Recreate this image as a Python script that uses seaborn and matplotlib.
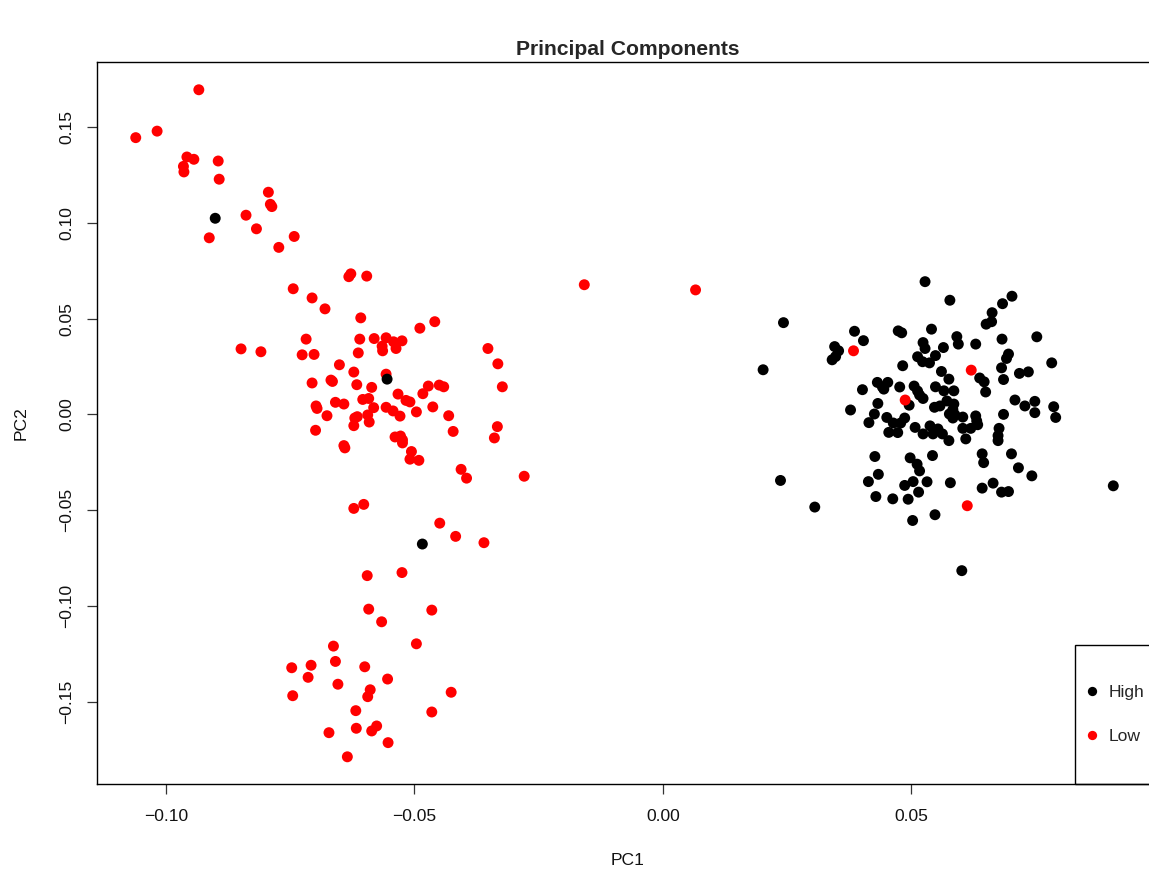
import matplotlib
matplotlib.use("Agg")
import matplotlib.pyplot as plt
from matplotlib.patches import Rectangle
import pandas as pd
import seaborn as sns

# PCA scores for samples in the "High" group
high_pc1 = [
    0.0243, 0.0202, 0.0386, 0.0404, 0.0474, 0.0481, 0.0346, 0.0354, 0.0348, 0.0341,
    0.0483, 0.0432, 0.0442, 0.0453, 0.0445, 0.0402, 0.0477, 0.0496, 0.0433, 0.0378,
    0.0426, 0.0415, 0.0451, 0.0464, 0.0479, 0.0487, 0.0508, 0.0528, 0.0578, 0.0703,
    0.0684, 0.0663, 0.0662, 0.0651, 0.0541, 0.0753, 0.0592, 0.0595, 0.0630, 0.0683,
    0.0524, 0.0528, 0.0565, 0.0549, 0.0513, 0.0523, 0.0537, 0.0696, 0.0692, 0.0783,
    0.0561, 0.0682, 0.0718, 0.0736, 0.0576, 0.0638, 0.0647, 0.0686, 0.0506, 0.0513,
    0.0517, 0.0524, 0.0549, 0.0566, 0.0586, 0.0650, 0.0547, 0.0558, 0.0572, 0.0586,
    0.0584, 0.0577, 0.0588, 0.0604, 0.0584, 0.0630, 0.0632, 0.0634, 0.0709, 0.0729,
    0.0749, 0.0749, 0.0787, 0.0791, 0.0686, 0.0538, 0.0554, 0.0604, 0.0620, 0.0677,
    0.0524, 0.0544, 0.0563, 0.0576, 0.0610, 0.0675, 0.0675, 0.0498, 0.0512, 0.0517,
    0.0543, 0.0643, 0.0646, 0.0702, 0.0716, 0.0743, 0.0487, 0.0504, 0.0532, 0.0579,
    0.0515, 0.0494, 0.0643, 0.0665, 0.0682, 0.0696, 0.0548, 0.0503, 0.0602, 0.0907,
    0.0237, 0.0306, 0.0427, 0.0434, 0.0414, 0.0429, 0.0463, 0.0455, 0.0473,
    -0.0901, -0.0555, -0.0484,
]
high_pc2 = [
    0.0479, 0.0233, 0.0434, 0.0385, 0.0436, 0.0426, 0.0354, 0.0332, 0.0302, 0.0285,
    0.0254, 0.0167, 0.0144, 0.0167, 0.0132, 0.0129, 0.0143, 0.0048, 0.0057, 0.0023,
    0.0002, -0.0043, -0.0016, -0.0045, -0.0045, -0.0019, -0.0068, 0.0693, 0.0596, 0.0617,
    0.0578, 0.0531, 0.0484, 0.0471, 0.0445, 0.0405, 0.0406, 0.0367, 0.0367, 0.0393,
    0.0375, 0.0344, 0.0349, 0.0307, 0.0301, 0.0275, 0.0269, 0.0315, 0.0292, 0.0269,
    0.0224, 0.0243, 0.0214, 0.0222, 0.0184, 0.0190, 0.0170, 0.0182, 0.0148, 0.0122,
    0.0101, 0.0083, 0.0144, 0.0123, 0.0123, 0.0117, 0.0037, 0.0044, 0.0070, 0.0054,
    0.0025, 0.0002, -0.0002, -0.0014, -0.0019, -0.0008, -0.0034, -0.0054, 0.0075, 0.0044,
    0.0068, 0.0009, 0.0040, -0.0016, 0.0000, -0.0060, -0.0076, -0.0073, -0.0073, -0.0073,
    -0.0102, -0.0102, -0.0102, -0.0137, -0.0128, -0.0111, -0.0137, -0.0227, -0.0260, -0.0295,
    -0.0215, -0.0206, -0.0252, -0.0206, -0.0279, -0.0321, -0.0371, -0.0351, -0.0352, -0.0357,
    -0.0406, -0.0443, -0.0385, -0.0359, -0.0406, -0.0403, -0.0524, -0.0554, -0.0816, -0.0373,
    -0.0345, -0.0484, -0.0220, -0.0313, -0.0351, -0.0429, -0.0441, -0.0094, -0.0095,
    0.1024, 0.0184, -0.0677,
]

# PCA scores for samples in the "Low" group
low_pc1 = [
    -0.0934, -0.1061, -0.1018, -0.0958, -0.0944, -0.0965, -0.0964, -0.0895, -0.0893, -0.0794,
    -0.0790, -0.0787, -0.0839, -0.0818, -0.0913, -0.0742, -0.0773,
    -0.0632, -0.0628, -0.0596, -0.0744, -0.0706, -0.0680, -0.0608, -0.0459, -0.0489, -0.0718,
    -0.0610, -0.0581, -0.0557, -0.0542, -0.0525, -0.0565, -0.0564, -0.0537, -0.0352, -0.0726,
    -0.0702, -0.0613, -0.0332, -0.0651, -0.0622, -0.0557, -0.0706, -0.0668, -0.0665, -0.0616,
    -0.0586, -0.0472, -0.0450, -0.0441, -0.0323, -0.0533, -0.0483, -0.0604, -0.0592, -0.0517,
    -0.0509, -0.0698, -0.0696, -0.0659, -0.0642, -0.0582, -0.0557, -0.0543, -0.0463, -0.0496,
    -0.0431, -0.0676, -0.0620, -0.0615, -0.0594, -0.0529,
    -0.0591, -0.0622, -0.0699, -0.0422, -0.0333, -0.0339, -0.0539, -0.0528, -0.0524, -0.0524,
    -0.0642, -0.0640, -0.0506, -0.0509, -0.0491, -0.0406, -0.0395, -0.0279, -0.0602, -0.0622,
    -0.0449, -0.0417, -0.0360,
    -0.0595, -0.0525, -0.0592, -0.0465, -0.0566, -0.0496, -0.0663, -0.0747, -0.0708, -0.0659,
    -0.0600, -0.0714, -0.0654, -0.0554, -0.0589, -0.0594, -0.0426, -0.0745, -0.0465, -0.0618,
    -0.0617, -0.0576, -0.0586, -0.0672, -0.0553, -0.0635,
    -0.0849, -0.0809, -0.0158, 0.0066,
    0.0384, 0.0488, 0.0621, 0.0613,
]
low_pc2 = [
    0.1695, 0.1445, 0.1479, 0.1344, 0.1332, 0.1295, 0.1266, 0.1323, 0.1228, 0.1160,
    0.1097, 0.1085, 0.1040, 0.0969, 0.0922, 0.0929, 0.0872,
    0.0719, 0.0734, 0.0722, 0.0656, 0.0608, 0.0551, 0.0504, 0.0484, 0.0450, 0.0393,
    0.0393, 0.0396, 0.0400, 0.0379, 0.0384, 0.0356, 0.0332, 0.0344, 0.0344, 0.0311,
    0.0313, 0.0321, 0.0264, 0.0259, 0.0221, 0.0210, 0.0164, 0.0179, 0.0172, 0.0155,
    0.0141, 0.0148, 0.0153, 0.0144, 0.0144, 0.0106, 0.0108, 0.0078, 0.0083, 0.0073,
    0.0065, 0.0044, 0.0031, 0.0063, 0.0054, 0.0035, 0.0037, 0.0018, 0.0039, 0.0013,
    -0.0007, -0.0007, -0.0019, -0.0012, -0.0003, -0.0009,
    -0.0040, -0.0059, -0.0083, -0.0089, -0.0064, -0.0123, -0.0118, -0.0113, -0.0133, -0.0149,
    -0.0163, -0.0175, -0.0194, -0.0234, -0.0240, -0.0287, -0.0333, -0.0323, -0.0470, -0.0491,
    -0.0568, -0.0637, -0.0670,
    -0.0842, -0.0826, -0.1017, -0.1022, -0.1083, -0.1198, -0.1210, -0.1323, -0.1310, -0.1290,
    -0.1318, -0.1373, -0.1409, -0.1382, -0.1438, -0.1474, -0.1451, -0.1469, -0.1554, -0.1547,
    -0.1639, -0.1627, -0.1653, -0.1662, -0.1714, -0.1788,
    0.0342, 0.0327, 0.0677, 0.0650,
    0.0332, 0.0075, 0.0231, -0.0477,
]

groups = ["High", "Low"]
group_colors = ["#000000", "#FF0000"]

x_ticks = [-0.10, -0.05, 0.00, 0.05]
x_tick_labels = ["\u22120.10", "\u22120.05", "0.00", "0.05"]
y_ticks = [-0.15, -0.10, -0.05, 0.00, 0.05, 0.10, 0.15]
y_tick_labels = ["\u22120.15", "\u22120.10", "\u22120.05", "0.00", "0.05", "0.10", "0.15"]

df = pd.concat([
    pd.DataFrame({"PC1": high_pc1, "PC2": high_pc2, "group": "High"}),
    pd.DataFrame({"PC1": low_pc1, "PC2": low_pc2, "group": "Low"}),
], ignore_index=True)
# stray High samples sitting inside the Low cloud are drawn on top
df["layer"] = ((df["group"] == "High") & (df["PC1"] < 0)).astype(int)
df = df.sort_values("layer", kind="stable")

sns.set_style("white")
plt.rcParams["font.family"] = ["Liberation Sans", "DejaVu Sans"]
plt.rcParams["axes.unicode_minus"] = True

W, H = 1149, 874
fig = plt.figure(figsize=(W / 100, H / 100), dpi=100)
ax = fig.add_axes([97 / W, 90 / H, 1062 / W, 722 / H])

sns.scatterplot(
    data=df, x="PC1", y="PC2", hue="group", hue_order=groups,
    palette=dict(zip(groups, group_colors)), s=62, linewidth=0,
    ax=ax, legend=True,
)

ax.set_xlim(-0.1139, 0.0999)
ax.set_ylim(-0.193, 0.184)
ax.set_xticks(x_ticks)
ax.set_xticklabels(x_tick_labels)
ax.set_yticks(y_ticks)
ax.set_yticklabels(y_tick_labels, rotation=90, va="center")

for side in ["left", "right", "top", "bottom"]:
    ax.spines[side].set_visible(True)
    ax.spines[side].set_color("black")
    ax.spines[side].set_linewidth(1.0)

ax.tick_params(axis="both", which="major", direction="out", length=7,
               width=0.9, color="#333333", labelsize=12.6, labelcolor="#111111",
               bottom=True, left=True, top=False, right=False)
ax.tick_params(axis="x", pad=11)
ax.tick_params(axis="y", pad=9.5)

ax.set_xlabel("PC1", fontsize=12.6, labelpad=21, color="#111111")
ax.set_ylabel("PC2", fontsize=12.6, labelpad=22, color="#111111")
ax.set_title("Principal Components", fontsize=15.2, fontweight="bold", pad=5)

# legend in the bottom-right corner with a plain box
box_left = (1075 - 97) / 1062
box_top = (784 - 645) / 722
ax.add_patch(Rectangle((box_left, 0), 1 - box_left, box_top, transform=ax.transAxes,
                       fill=False, edgecolor="black", linewidth=1.0, zorder=5,
                       clip_on=False))
sns.move_legend(ax, loc="center left", bbox_to_anchor=(box_left, box_top / 2),
                frameon=False, title=None, fontsize=12.6, borderpad=0.5,
                handlelength=1.0, handletextpad=0.45, labelspacing=1.65,
                markerscale=0.85, borderaxespad=0)

fig.savefig("out.png", dpi=100)
